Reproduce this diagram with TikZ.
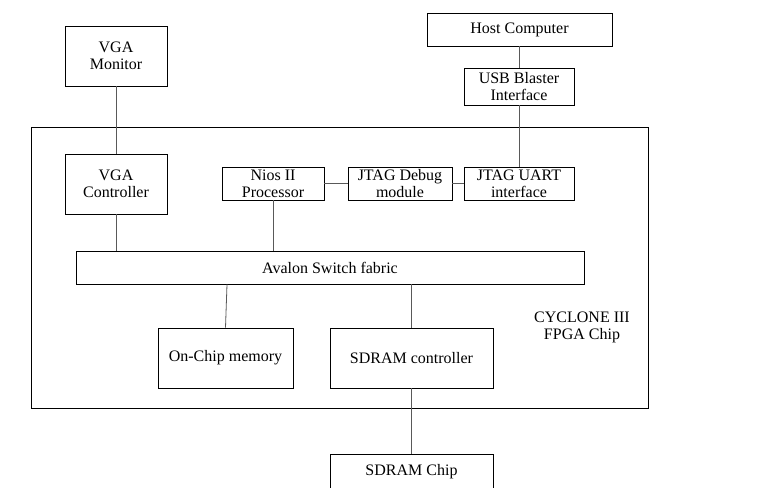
\documentclass[tikz,border=0pt]{standalone}
\usepackage{fontspec}
\setmainfont{Liberation Serif}
\begin{document}
\begin{tikzpicture}[x=1pt,y=-1pt,line width=0.8pt]
	\tikzset{blk/.style={rectangle, draw = black!100, fill=white, inner sep=0pt, align=center, font=\fontsize{16}{17}\selectfont}}
	\tikzset{wire/.style={draw = black!65}}
	\clip (0,0) rectangle (765,487);

	%---NODES---
	\node[blk, minimum width=617, minimum height=281] (4) at (339.5,267.5) {};
	\node[blk, minimum width=102, minimum height=60] (1) at (116,56) {VGA\\Monitor};
	\node[blk, minimum width=185, minimum height=33] (2) at (519.5,29.5) {Host Computer};
	\node[blk, minimum width=110, minimum height=37] (3) at (519,86.5) {USB Blaster\\Interface};
	\node[blk, minimum width=102, minimum height=60] (5) at (116,184) {VGA\\Controller};
	\node[blk, minimum width=102, minimum height=33] (6) at (273,183.5) {Nios II\\Processor};
	\node[blk, minimum width=104, minimum height=33] (7) at (400,183.5) {JTAG Debug\\module};
	\node[blk, minimum width=110, minimum height=33] (8) at (519,183.5) {JTAG UART\\interface};
	\node[blk, minimum width=508, minimum height=33] (9) at (330,267.5) {Avalon Switch fabric};
	\node[blk, minimum width=135, minimum height=60] (10) at (225.5,358) {On-Chip memory};
	\node[blk, minimum width=163, minimum height=60] (11) at (411.5,358) {SDRAM controller};
	\node[blk, minimum width=163, minimum height=36] (12) at (411.5,472) {SDRAM Chip};

	%---EDGES---
	\draw[wire] (1.south) -- (5.north);
	\draw[wire] (3.north) -- (3.north |- 2.south);
	\draw[wire] (3.south) -- (8.north);
	\draw[wire] (6.east) -- (7.west);
	\draw[wire] (7.east) -- (8.west);
	\draw[wire] (5.south) -- (5.south |- 9.north);
	\draw[wire] (6.south) -- (6.south |- 9.north);
	\draw[wire] (10.north) -- ([xshift=1.5pt]10.north |- 9.south);
	\draw[wire] (11.north) -- (11.north |- 9.south);
	\draw[wire] (11.south) -- (12.north);

	%---LABELS---
	\node[align=center, font=\fontsize{16}{17}\selectfont] (13) at (582,327.5) {CYCLONE III\\FPGA Chip};

\end{tikzpicture}
\end{document}
